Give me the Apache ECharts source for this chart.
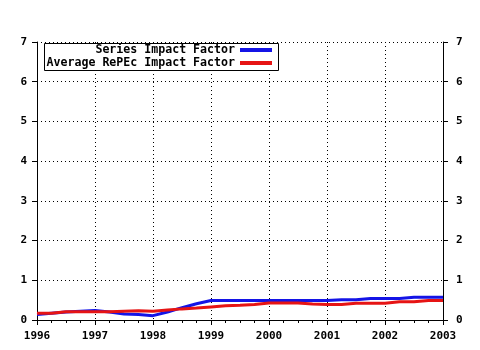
<!DOCTYPE html>
<html>
<head>
<meta charset="utf-8">
<script src="https://cdn.jsdelivr.net/npm/echarts@6/dist/echarts.min.js"></script>
<style>
  html, body { margin: 0; padding: 0; background: #fff; }
  #chart { width: 480px; height: 350px; }
</style>
</head>
<body>
<div id="chart"></div>
<script>
// Quarterly observation points, 1996 to 2003
const quarters = [
  1996.00, 1996.25, 1996.50, 1996.75,
  1997.00, 1997.25, 1997.50, 1997.75,
  1998.00, 1998.25, 1998.50, 1998.75,
  1999.00, 1999.25, 1999.50, 1999.75,
  2000.00, 2000.25, 2000.50, 2000.75,
  2001.00, 2001.25, 2001.50, 2001.75,
  2002.00, 2002.25, 2002.50, 2002.75,
  2003.00
];
const seriesImpact = [
  0.14, 0.17, 0.20, 0.22,
  0.24, 0.20, 0.15, 0.14,
  0.11, 0.20, 0.31, 0.41,
  0.49, 0.49, 0.49, 0.49,
  0.49, 0.49, 0.49, 0.49,
  0.49, 0.51, 0.51, 0.54,
  0.54, 0.54, 0.57, 0.57,
  0.57
];
const repecImpact = [
  0.17, 0.17, 0.21, 0.21,
  0.21, 0.21, 0.22, 0.23,
  0.22, 0.25, 0.28, 0.30,
  0.33, 0.36, 0.37, 0.39,
  0.43, 0.43, 0.43, 0.40,
  0.39, 0.39, 0.42, 0.42,
  0.42, 0.46, 0.46, 0.49,
  0.49
];
const seriesNames = ['Series Impact Factor', 'Average RePEc Impact Factor'];

const font = { fontFamily: 'DejaVu Sans Mono', fontWeight: 'bold', fontSize: 11, color: '#000' };
const legendFont = Object.assign({}, font, { fontSize: 11.6 });
const dotted = { color: '#000', type: [1, 3], width: 1 };
const pair = (xs, ys) => xs.map((x, i) => [x, ys[i]]);

const legendItem = (name, top) => ({
  data: [name], right: 208, top: top, align: 'right', orient: 'vertical',
  itemWidth: 32, itemHeight: 4, padding: 0, z: 6,
  icon: 'rect', textStyle: legendFont
});

const chart = echarts.init(document.getElementById('chart'), null, { renderer: 'canvas' });
chart.setOption({
  animation: false,
  backgroundColor: '#fff',
  grid: { left: 37, right: 37, top: 42, bottom: 30, containLabel: false },
  legend: [legendItem(seriesNames[0], 44), legendItem(seriesNames[1], 57)],
  graphic: [{
    type: 'rect', left: 44, top: 43, z: 5,
    shape: { width: 234, height: 27 },
    style: { fill: '#fff', stroke: '#000', lineWidth: 1 }
  }],
  xAxis: [
    {
      type: 'value', min: 1996, max: 2003, interval: 1, position: 'bottom',
      axisLine: { show: true, lineStyle: { color: '#000', width: 1 } },
      axisTick: { show: true, length: 5, lineStyle: { color: '#000' } },
      minorTick: { show: true, splitNumber: 4, length: 3, lineStyle: { color: '#000' } },
      axisLabel: Object.assign({}, font, { margin: 11, formatter: v => String(v) }),
      splitLine: { show: true, lineStyle: dotted }
    },
    {
      type: 'value', min: 1996, max: 2003, interval: 1, position: 'top',
      axisLine: { show: true, lineStyle: { color: '#000', width: 1 } },
      axisTick: { show: true, inside: true, length: 5, lineStyle: { color: '#000' } },
      minorTick: { show: true, splitNumber: 4, length: 3, lineStyle: { color: '#000' } },
      axisLabel: { show: false },
      splitLine: { show: false }
    }
  ],
  yAxis: [
    {
      type: 'value', min: 0, max: 7, interval: 1, position: 'left',
      axisLine: { show: true, lineStyle: { color: '#000', width: 1 } },
      axisTick: { show: true, length: 5, lineStyle: { color: '#000' } },
      axisLabel: Object.assign({}, font, { margin: 10 }),
      splitLine: { show: true, lineStyle: dotted }
    },
    {
      type: 'value', min: 0, max: 7, interval: 1, position: 'right',
      axisLine: { show: true, lineStyle: { color: '#000', width: 1 } },
      axisTick: { show: true, length: 5, lineStyle: { color: '#000' } },
      axisLabel: Object.assign({}, font, { margin: 13 }),
      splitLine: { show: false }
    }
  ],
  series: [
    {
      name: seriesNames[0], type: 'line', xAxisIndex: 0, yAxisIndex: 0,
      data: pair(quarters, seriesImpact), symbol: 'none',
      lineStyle: { color: '#1414e6', width: 3 }, itemStyle: { color: '#1414e6' }
    },
    {
      name: seriesNames[1], type: 'line', xAxisIndex: 0, yAxisIndex: 0,
      data: pair(quarters, repecImpact), symbol: 'none',
      lineStyle: { color: '#e61414', width: 3 }, itemStyle: { color: '#e61414' }
    }
  ]
});
</script>
</body>
</html>
